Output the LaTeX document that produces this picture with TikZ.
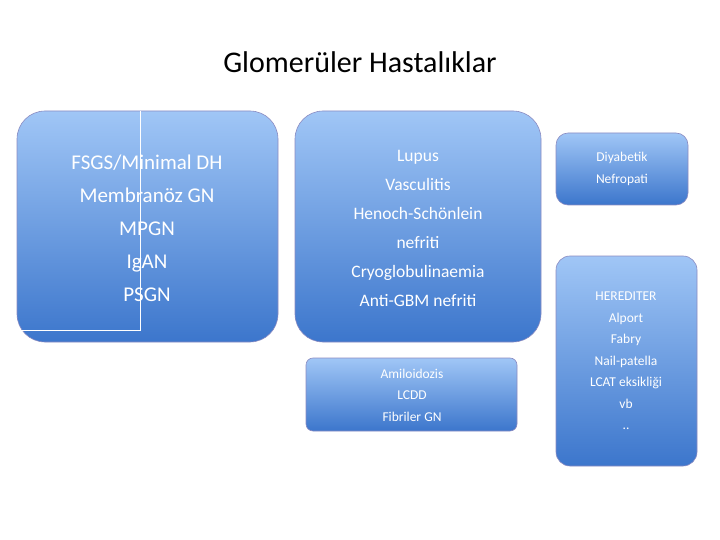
\documentclass[tikz,border=0pt]{standalone}
\usepackage{fontspec}
\setmainfont{Carlito}
\begin{document}
\begin{tikzpicture}[x=1pt,y=-1pt,
 bx/.style={draw=blue!30!gray!70,line width=0.6pt,rounded corners=#1,top color={rgb,255:red,160;green,198;blue,246},bottom color={rgb,255:red,60;green,118;blue,204}},
 tx/.style={text=white,align=center,font=#1}]
\useasboundingbox (0,0) rectangle (720,540);
\node (title) at (360,62) {\fontsize{30}{36}\selectfont Glomerüler Hastalıklar};
\path[bx=28pt] (17,111) rectangle (278,342);
\node[tx=\fontsize{21}{33}\selectfont] (t1) at (147,228) {FSGS/Minimal DH\\Membranöz GN\\MPGN\\IgAN\\PSGN};
\draw[white,line width=0.7pt] (140,111) -- (140,330) -- (20,330);
\path[bx=28pt] (295,111) rectangle (541,342);
\node[tx=\fontsize{17.5}{29}\selectfont] (t2) at (418,228) {Lupus\\Vasculitis\\Henoch-Schönlein\\nefriti\\Cryoglobulinaemia\\Anti-GBM nefriti};
\path[bx=7pt] (306,358) rectangle (517,431);
\node[tx=\fontsize{13.5}{21.5}\selectfont] (t3) at (412,395) {Amiloidozis\\LCDD\\Fibriler GN};
\path[bx=12pt] (556,133) rectangle (688,205);
\node[tx=\fontsize{13.5}{22}\selectfont] (t4) at (622,169) {Diyabetik\\Nefropati};
\path[bx=14pt] (556,256) rectangle (697,466);
\node[tx=\fontsize{13.5}{21.5}\selectfont] (t5) at (626,361) {HEREDITER\\Alport\\Fabry\\Nail-patella\\LCAT eksikliği\\vb\\..};
\end{tikzpicture}
\end{document}
